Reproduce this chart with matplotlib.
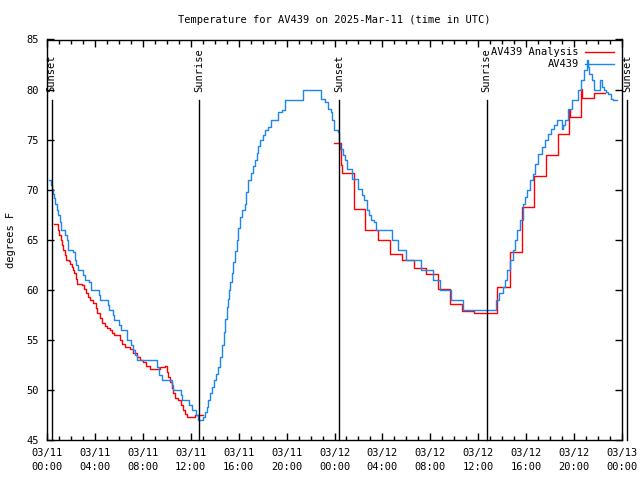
import numpy as np
import matplotlib
matplotlib.use('Agg')
import matplotlib.pyplot as plt

plt.rcParams['font.family'] = ['DejaVu Sans Mono']
plt.rcParams['font.size'] = 7.5

# horas desde 03/11 00:00 UTC
obs_hours = [0.19, 0.3, 0.42, 0.5, 0.58, 0.7, 0.8, 0.95, 1.05, 1.14, 1.5, 1.64, 1.78,
             2.2, 2.3, 2.45, 2.56, 3.0, 3.17, 3.53, 3.65, 4.3, 4.42, 5.06, 5.2, 5.54,
             5.62, 6.04, 6.15, 6.7, 7.0, 7.15, 7.35, 7.49, 9.16, 9.2, 9.35, 9.57, 10.4,
             10.55, 11.16, 11.3, 11.88, 12.1, 12.45, 12.63, 13.05, 13.15, 13.33, 13.45,
             13.6, 13.75, 13.95, 14.1, 14.3, 14.44, 14.6, 14.75, 14.9, 15.0, 15.1, 15.2,
             15.3, 15.42, 15.55, 15.7, 15.83, 15.95, 16.1, 16.3, 16.53, 16.65, 16.8,
             17.0, 17.2, 17.36, 17.5, 17.65, 17.78, 18.0, 18.2, 18.45, 18.7, 19.3,
             19.64, 19.87, 21.4, 22.87, 23.2, 23.48, 23.7, 23.8, 23.98, 24.26, 24.37,
             24.46, 24.68, 24.87, 25.07, 25.43, 25.98, 26.27, 26.46, 26.69, 26.9, 27.02,
             27.3, 27.46, 28.77, 29.32, 29.97, 31.19, 32.25, 32.8, 33.7, 34.7, 37.48,
             37.76, 38.04, 38.23, 38.4, 38.65, 38.87, 39.06, 39.25, 39.48, 39.7, 39.9,
             40.1, 40.3, 40.54, 40.73, 41.0, 41.3, 41.57, 41.85, 42.1, 42.3, 42.55,
             42.96, 43.1, 43.24, 43.5, 43.8, 44.35, 44.6, 44.8, 45.05, 45.15, 45.27,
             45.46, 45.66, 46.16, 46.3, 46.5, 46.7, 46.85, 47.1, 47.25, 47.6]
obs_temp = [71.0, 70.5, 70.1, 69.6, 69.2, 68.6, 68.0, 67.5, 66.8, 66.0, 65.5, 65.0, 64.0,
            63.8, 63.0, 62.5, 62.0, 61.5, 61.0, 60.8, 60.0, 59.5, 59.0, 58.5, 58.0, 57.5,
            57.0, 56.5, 56.0, 55.0, 54.5, 54.0, 53.5, 53.0, 53.0, 52.3, 51.5, 51.0, 50.5,
            50.0, 49.5, 49.0, 48.5, 48.0, 47.5, 47.0, 47.3, 47.8, 48.3, 49.0,
            49.7, 50.3, 51.0, 51.6, 52.3, 53.3, 54.5, 55.8, 57.1, 58.3, 59.1, 60.0,
            60.8, 61.7, 62.8, 63.9, 65.0, 66.2, 67.3, 68.0, 68.6, 69.8, 71.0,
            71.7, 72.4, 73.0, 73.7, 74.4, 75.0, 75.5, 76.0, 76.3, 77.0, 77.8,
            78.0, 79.0, 80.0, 79.1, 78.8, 78.1, 77.8, 77.0, 76.0, 75.8, 74.6,
            74.1, 73.5, 73.0, 72.1, 71.1, 70.1, 69.5, 69.0, 68.0, 67.5, 67.0,
            66.8, 66.0, 65.0, 64.0, 63.0, 62.0, 61.0, 60.0, 59.0, 58.0, 59.0,
            59.7, 60.3, 61.0, 62.0, 63.0, 64.0, 65.0, 66.0, 67.0, 68.6, 69.3,
            70.0, 71.0, 71.6, 72.6, 73.6, 74.3, 75.0, 75.6, 76.1, 76.5, 77.0,
            76.1, 76.5, 77.0, 78.1, 79.0, 80.0, 81.0, 82.0, 83.0, 82.3, 81.6,
            81.0, 80.0, 81.0, 80.3, 80.0, 79.8, 79.6, 79.1, 79.0, 79.0]

ana_hours = [0.58, 0.9, 1.0, 1.14, 1.25, 1.36, 1.47, 1.58, 1.86, 1.96, 2.06, 2.15, 2.25,
             2.4, 2.53, 2.9, 3.1, 3.26, 3.45, 3.59, 3.87, 4.05, 4.2, 4.4, 4.57, 4.84,
             5.05, 5.26, 5.45, 5.59, 5.87, 6.1, 6.3, 6.51, 6.93, 7.2, 7.49, 7.75, 8.04,
             8.3, 8.6, 9.0, 9.43, 9.85, 10.0, 10.12, 10.25, 10.4, 10.55, 10.68, 10.96,
             11.2, 11.38, 11.5, 11.66, 12.08, 12.35, 13.05, 13.06,
             23.96, 24.55, 24.65, 25.62, 26.52, 27.6, 28.65, 29.65, 30.65, 31.67, 32.65,
             33.62, 34.68, 35.62, 37.55, 38.65, 39.66, 40.64, 41.63, 42.62, 43.55, 43.65,
             44.6, 44.65, 45.7, 46.6]
ana_temp = [66.6, 66.0, 65.5, 65.0, 64.5, 64.0, 63.5, 63.0, 62.9, 62.6, 62.3, 62.0, 61.7,
            61.1, 60.6, 60.5, 60.1, 59.7, 59.3, 59.0, 58.7, 58.2, 57.7, 57.2, 56.7, 56.4,
            56.2, 56.0, 55.7, 55.5, 55.5, 55.0, 54.6, 54.3, 54.1, 53.7, 53.3, 53.0, 52.8,
            52.4, 52.1, 52.1, 52.3, 52.4, 51.8, 51.3, 50.8, 50.2, 49.7, 49.2, 49.0,
            48.5, 48.0, 47.6, 47.3, 47.3, 47.5, 47.5, np.nan,
            74.7, 72.5, 71.7, 68.1, 66.0, 65.0, 63.6, 63.0, 62.2, 61.6, 60.1,
            58.6, 57.9, 57.7, 60.3, 63.8, 68.3, 71.4, 73.5, 75.6, 78.0, 77.3,
            80.1, 79.2, 79.7, 79.7]

sun_hours = [0.39, 12.71, 24.40, 36.70, 48.44]
sun_labels = ['Sunset', 'Sunrise', 'Sunset', 'Sunrise', 'Sunset']

tick_hours = list(range(0, 49, 4))
tick_labels = ['03/11\n00:00', '03/11\n04:00', '03/11\n08:00', '03/11\n12:00',
               '03/11\n16:00', '03/11\n20:00', '03/12\n00:00', '03/12\n04:00',
               '03/12\n08:00', '03/12\n12:00', '03/12\n16:00', '03/12\n20:00',
               '03/13\n00:00']

fig = plt.figure(figsize=(6.4, 4.8), dpi=100)
ax = fig.add_axes([47 / 640, 40 / 480, 575 / 640, 400.5 / 480])

ax.plot(ana_hours, ana_temp, drawstyle='steps-post', color='#ff0000', lw=1.0,
        label='AV439 Analysis')
ax.plot(obs_hours, obs_temp, drawstyle='steps-post', color='#1c86ee', lw=1.0,
        label='AV439')

for h, lab in zip(sun_hours, sun_labels):
    ax.plot([h, h], [79, 45], color='black', lw=1.0, clip_on=False)
    ax.text(h, 79.75, lab, rotation=90, ha='center', va='bottom', clip_on=False)

ax.set_xlim(0, 48)
ax.set_ylim(45, 85)
ax.set_xticks(tick_hours)
ax.set_xticklabels(tick_labels, linespacing=1.45)
ax.set_xticks(range(0, 49), minor=True)
ax.set_yticks(range(45, 86, 5))
ax.tick_params(which='both', direction='in', top=True, right=True, width=1.0)
ax.tick_params(which='major', length=5, pad=6)
ax.tick_params(which='minor', length=3)
for s in ax.spines.values():
    s.set_linewidth(1.0)

ax.set_ylabel('degrees F', labelpad=7)
ax.set_title('Temperature for AV439 on 2025-Mar-11 (time in UTC)', fontsize=7.5, pad=12)

ax.legend(loc='upper right', markerfirst=False, frameon=False, handlelength=2.8,
          handletextpad=0.6, borderaxespad=0.35, labelspacing=0.2)

fig.savefig('out.png', dpi=100)
